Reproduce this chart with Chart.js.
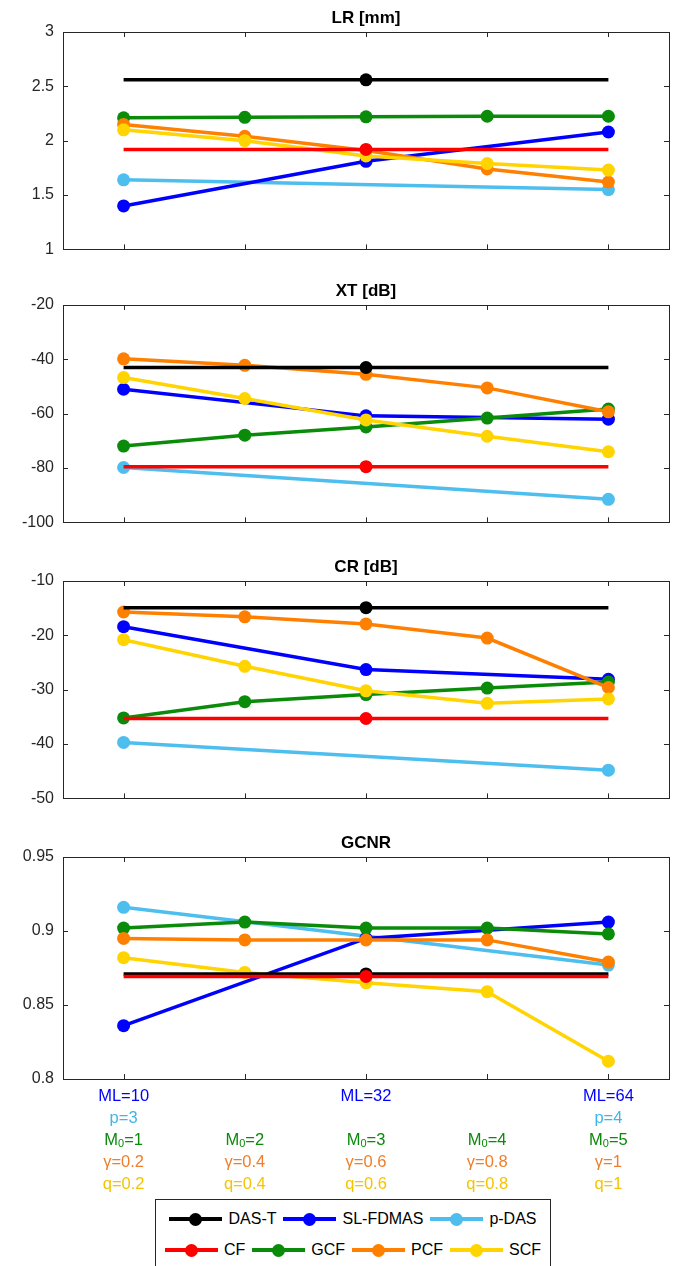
<!DOCTYPE html>
<html>
<head>
<meta charset="utf-8">
<script src="https://cdn.jsdelivr.net/npm/chart.js@4.4.1/dist/chart.umd.min.js"></script>
<style>
  html, body { margin: 0; padding: 0; background: #fff; }
  #Lienzo { position: relative; width: 684px; height: 1266px; overflow: hidden; font-family: 'Liberation Sans', Arial, sans-serif; }
  #Lienzo canvas { position: absolute; left: 0; }
  .Leyenda { position: absolute; left: 155px; top: 1199px; width: 396px; height: 100px; border: 1px solid #262626; box-sizing: border-box; background: #fff; }
  .FilaLeyenda { position: absolute; left: 0; right: 0; height: 24px; display: flex; justify-content: center; align-items: center; }
  .Item { display: flex; align-items: center; margin: 0 3.5px; font-size: 16px; line-height: 1; color: #000; }
  .Muestra { position: relative; width: 53px; height: 14px; margin-right: 6px; }
  .Muestra::before { content: ''; position: absolute; left: 0; right: 0; top: 5.25px; height: 3.5px; background: var(--c); }
  .Muestra::after { content: ''; position: absolute; left: 20px; top: 0.5px; width: 13px; height: 13px; border-radius: 50%; background: var(--c); }
</style>
</head>
<body>
<div id="Lienzo">
  <canvas id="PanelLR"   width="684" height="268" style="top:0px"></canvas>
  <canvas id="PanelXT"   width="684" height="268" style="top:273px"></canvas>
  <canvas id="PanelCR"   width="684" height="268" style="top:549px"></canvas>
  <canvas id="PanelGCNR" width="684" height="369" style="top:825px"></canvas>
  <div class="Leyenda" id="Leyenda"></div>
</div>
<script>
// Datos
const Metodos    = ['DAS-T', 'SL-FDMAS', 'p-DAS', 'CF', 'GCF', 'PCF', 'SCF'];
const Posiciones = [1, 2, 3, 4, 5];

// filas en el orden de Metodos; null = sin medida en esa posicion
const ValoresLR = [
  [2.56, 2.56, 2.56, 2.56, 2.56],
  [1.40, null, 1.81, null, 2.08],
  [1.64, null, null, null, 1.55],
  [1.92, 1.92, 1.92, 1.92, 1.92],
  [2.21, 2.215, 2.22, 2.225, 2.225],
  [2.15, 2.04, 1.91, 1.74, 1.62],
  [2.10, 2.00, 1.86, 1.79, 1.73]
];
const ValoresXT = [
  [-43, -43, -43, -43, -43],
  [-51, null, -60.8, null, -62],
  [-79.8, null, null, null, -91.5],
  [-79.5, -79.5, -79.5, -79.5, -79.5],
  [-71.9, -67.9, -64.9, -61.6, -58.3],
  [-39.8, -42.2, -45.5, -50.5, -59.3],
  [-46.7, -54.4, -62.3, -68.3, -74]
];
const ValoresCR = [
  [-14.9, -14.9, -14.9, -14.9, -14.9],
  [-18.4, null, -26.3, null, -28.1],
  [-39.7, null, null, null, -44.8],
  [-35.3, -35.3, -35.3, -35.3, -35.3],
  [-35.2, -32.2, -30.9, -29.7, -28.6],
  [-15.7, -16.6, -17.9, -20.5, -29.6],
  [-20.8, -25.7, -30.2, -32.5, -31.7]
];
const ValoresGCNR = [
  [0.871, 0.871, 0.871, 0.871, 0.871],
  [0.836, null, 0.895, null, 0.906],
  [0.916, null, null, null, 0.877],
  [0.8693, 0.8693, 0.8693, 0.8693, 0.8693],
  [0.902, 0.906, 0.902, 0.902, 0.898],
  [0.895, 0.894, 0.894, 0.894, 0.879],
  [0.882, 0.872, 0.865, 0.859, 0.812]
];

const TicksLR   = [1, 1.5, 2, 2.5, 3];
const TicksXT   = [-100, -80, -60, -40, -20];
const TicksCR   = [-50, -40, -30, -20, -10];
const TicksGCNR = [0.8, 0.85, 0.9, 0.95];

const EtiquetasML    = ['ML=10', '', 'ML=32', '', 'ML=64'];
const EtiquetasP     = ['p=3', '', '', '', 'p=4'];
const EtiquetasM0    = ['1', '2', '3', '4', '5'];
const EtiquetasGamma = ['γ=0.2', 'γ=0.4', 'γ=0.6', 'γ=0.8', 'γ=1'];
const EtiquetasQ     = ['q=0.2', 'q=0.4', 'q=0.6', 'q=0.8', 'q=1'];

// Estilo
const Colores     = ['#000000', '#0000ff', '#4dbeee', '#ff0000', '#0a8c0a', '#ff8000', '#ffd400'];
const ColoresTxt  = ['#0000ff', '#3fb6ea', '#0a8a0a', '#ef7d2b', '#f5c400'];
const SoloCentro  = [true, false, false, true, false, false, false];
const CapaDibujo  = [2, 1, 4, 5, 6, 0, 3]; // de abajo hacia arriba

Chart.defaults.font.family = "'Liberation Sans', Arial, sans-serif";

const MarcoPlugin = {
  id: 'marco',
  beforeDatasetsDraw(Ch, Args, Opts) {
    const { ctx, chartArea: A, scales } = Ch;
    const L = 5;
    ctx.save();
    ctx.strokeStyle = '#262626';
    ctx.lineWidth = 1;
    ctx.beginPath();
    Posiciones.forEach(V => {
      const Px = Math.round(scales.x.getPixelForValue(V)) + 0.5;
      ctx.moveTo(Px, A.top);    ctx.lineTo(Px, A.top + L);
      ctx.moveTo(Px, A.bottom); ctx.lineTo(Px, A.bottom - L);
    });
    (Opts.ticks || []).forEach(V => {
      const Py = Math.round(scales.y.getPixelForValue(V)) + 0.5;
      ctx.moveTo(A.left, Py);  ctx.lineTo(A.left + L, Py);
      ctx.moveTo(A.right, Py); ctx.lineTo(A.right - L, Py);
    });
    ctx.stroke();
    ctx.strokeRect(Math.round(A.left) + 0.5, Math.round(A.top) + 0.5,
                   Math.round(A.right - A.left), Math.round(A.bottom - A.top));
    ctx.restore();
  }
};

const EtiquetasPlugin = {
  id: 'etiquetasX',
  afterDraw(Ch) {
    const { ctx, chartArea: A, scales: { x } } = Ch;
    const Filas = [EtiquetasML, EtiquetasP, null, EtiquetasGamma, EtiquetasQ];
    const Fuente = T => `${T}px 'Liberation Sans', Arial, sans-serif`;
    ctx.save();
    ctx.textBaseline = 'middle';
    Filas.forEach((Fila, K) => {
      const Y = A.bottom + 17 + 22 * K;
      ctx.fillStyle = ColoresTxt[K];
      Posiciones.forEach((V, J) => {
        const Px = x.getPixelForValue(V);
        if (Fila) {
          if (!Fila[J]) return;
          ctx.font = Fuente(16.5);
          ctx.textAlign = 'center';
          ctx.fillText(Fila[J], Px, Y);
          return;
        }
        // M con subindice 0
        ctx.textAlign = 'left';
        ctx.font = Fuente(16.5);
        const W1 = ctx.measureText('M').width;
        const W3 = ctx.measureText('=' + EtiquetasM0[J]).width;
        ctx.font = Fuente(11);
        const W2 = ctx.measureText('0').width;
        const X0 = Px - (W1 + W2 + W3) / 2;
        ctx.font = Fuente(16.5);
        ctx.fillText('M', X0, Y);
        ctx.font = Fuente(11);
        ctx.fillText('0', X0 + W1, Y + 4);
        ctx.font = Fuente(16.5);
        ctx.fillText('=' + EtiquetasM0[J], X0 + W1 + W2, Y);
      });
    });
    ctx.restore();
  }
};

function Series(Valores) {
  return Metodos.map((Nombre, I) => {
    const Puntos = Posiciones
      .map((X, J) => ({ x: X, y: Valores[I][J] }))
      .filter(P => P.y !== null);
    return {
      label: Nombre,
      data: Puntos,
      borderColor: Colores[I],
      backgroundColor: Colores[I],
      borderWidth: 3.5,
      pointRadius: Puntos.map(P => (!SoloCentro[I] || P.x === 3) ? 6.5 : 0),
      pointBorderWidth: 0,
      pointHoverRadius: 0,
      tension: 0,
      order: 10 - CapaDibujo.indexOf(I)
    };
  });
}

function CrearPanel(Id, Titulo, Valores, Ticks, PadInf, Extra) {
  return new Chart(document.getElementById(Id).getContext('2d'), {
    type: 'line',
    data: { datasets: Series(Valores) },
    options: {
      responsive: false,
      animation: false,
      events: [],
      layout: { padding: { top: 0, right: 15, bottom: PadInf, left: 0 } },
      plugins: {
        legend:  { display: false },
        tooltip: { enabled: false },
        marco:   { ticks: Ticks },
        title: {
          display: true,
          text: Titulo,
          fullSize: false,
          color: '#000',
          font: { size: 17, weight: 'bold' },
          padding: { top: 8, bottom: 3.6 }
        }
      },
      scales: {
        x: { type: 'linear', display: false, min: 0.5, max: 5.5 },
        y: {
          min: Ticks[0],
          max: Ticks[Ticks.length - 1],
          afterBuildTicks: S => { S.ticks = Ticks.map(V => ({ value: V })); },
          afterFit: S => { S.width = 63; },
          grid:   { display: false, drawTicks: false },
          border: { display: false },
          ticks:  { padding: 9, color: '#262626', font: { size: 16 }, callback: V => String(V) }
        }
      }
    },
    plugins: [MarcoPlugin].concat(Extra || [])
  });
}

CrearPanel('PanelLR',   'LR [mm]', ValoresLR,   TicksLR,   14);
CrearPanel('PanelXT',   'XT [dB]', ValoresXT,   TicksXT,   14);
CrearPanel('PanelCR',   'CR [dB]', ValoresCR,   TicksCR,   14);
CrearPanel('PanelGCNR', 'GCNR',    ValoresGCNR, TicksGCNR, 115, [EtiquetasPlugin]);

// Leyenda
const FilasLeyenda = [[0, 1, 2], [3, 4, 5, 6]];
document.getElementById('Leyenda').innerHTML = FilasLeyenda.map((Fila, K) => `
  <div class="FilaLeyenda" style="top:${K === 0 ? 7 : 38}px">
    ${Fila.map(I => `
      <div class="Item"><span class="Muestra" style="--c:${Colores[I]}"></span><span>${Metodos[I]}</span></div>
    `).join('')}
  </div>`).join('');
</script>
</body>
</html>
